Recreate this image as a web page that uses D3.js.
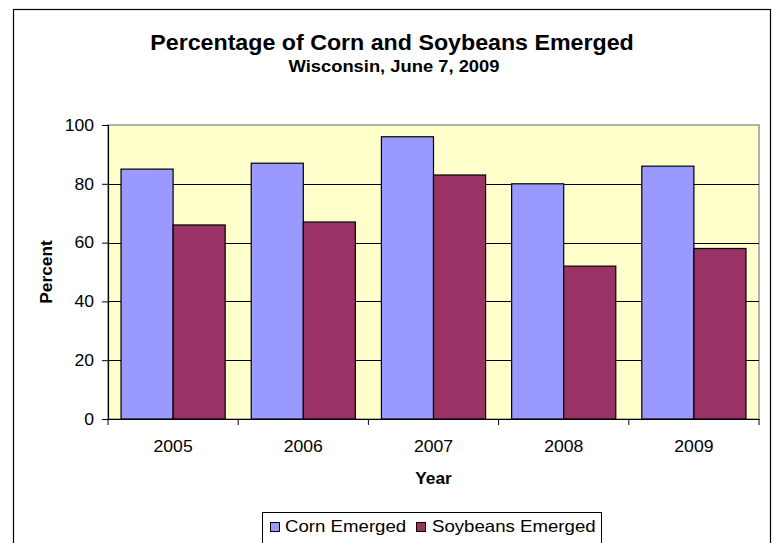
<!DOCTYPE html>
<html>
<head>
<meta charset="utf-8">
<script src="https://cdn.jsdelivr.net/npm/d3@7"></script>
<style>
  html, body { margin: 0; padding: 0; background: #fff; }
  svg { display: block; }
  text { font-family: "Liberation Sans", Arial, sans-serif; fill: #000; }
</style>
</head>
<body>
<svg id="chart" width="775" height="543"></svg>
<script>
const years = ["2005", "2006", "2007", "2008", "2009"];
const seriesNames = ["Corn Emerged", "Soybeans Emerged"];
const cornValues = [85, 87, 96, 80, 86];
const soyValues = [66, 67, 83, 52, 58];
const yTicks = [0, 20, 40, 60, 80, 100];
const seriesColors = ["#9999FF", "#993366"];
const titleText = "Percentage of Corn and Soybeans Emerged";
const subtitleText = "Wisconsin, June 7, 2009";

const data = years.map((y, i) => ({ year: y, values: [cornValues[i], soyValues[i]] }));

const svg = d3.select("#chart");
const SX = 1.08; // horizontal stretch of text seen in the reference

function stretchedText(g, x, y, txt, opts) {
  const sx = opts.sx || SX;
  const t = g.append("text")
    .attr("transform", `translate(${x},${y}) scale(${sx},1)`)
    .text(txt);
  if (opts.size) t.attr("font-size", opts.size);
  if (opts.weight) t.attr("font-weight", opts.weight);
  if (opts.anchor) t.attr("text-anchor", opts.anchor);
  return t;
}

// outer chart frame
svg.append("rect")
  .attr("x", 13.5).attr("y", 9.5)
  .attr("width", 757).attr("height", 560)
  .attr("fill", "#fff").attr("stroke", "#000").attr("stroke-width", 1.2);

const plot = { left: 108, right: 759, top: 125, bottom: 419 };

const x0 = d3.scaleBand().domain(years).range([plot.left, plot.right]).paddingInner(0).paddingOuter(0);
const x1 = d3.scaleBand().domain(seriesNames).range([0, x0.bandwidth()]).paddingInner(0).paddingOuter(0.25);
const y = d3.scaleLinear().domain([0, 100]).range([plot.bottom, plot.top]);

// plot background
svg.append("rect")
  .attr("x", plot.left).attr("y", plot.top)
  .attr("width", plot.right - plot.left).attr("height", plot.bottom - plot.top)
  .attr("fill", "#FFFFCC").attr("stroke", "#999").attr("stroke-width", 1.5);

// gridlines
svg.append("g").selectAll("line")
  .data(yTicks.filter(d => d > 0 && d < 100))
  .join("line")
  .attr("x1", plot.left).attr("x2", plot.right)
  .attr("y1", d => Math.round(y(d)) + 0.5).attr("y2", d => Math.round(y(d)) + 0.5)
  .attr("stroke", "#000").attr("stroke-width", 1);

// bars
const groups = svg.append("g").selectAll("g")
  .data(data)
  .join("g")
  .attr("transform", d => `translate(${x0(d.year)},0)`);

groups.selectAll("rect")
  .data(d => d.values.map((v, i) => ({ name: seriesNames[i], value: v, i })))
  .join("rect")
  .attr("x", d => x1(d.name))
  .attr("y", d => y(d.value))
  .attr("width", x1.bandwidth())
  .attr("height", d => y(0) - y(d.value))
  .attr("fill", d => seriesColors[d.i])
  .attr("stroke", "#000").attr("stroke-width", 1.2);

// y axis
const yAxis = d3.axisLeft(y).tickValues(yTicks).tickSize(6).tickPadding(8).tickFormat(d3.format("d"));
const yg = svg.append("g").attr("transform", `translate(${plot.left},0)`).call(yAxis);
yg.select(".domain").attr("stroke", "#000").attr("stroke-width", 1.2);
yg.selectAll(".tick line").attr("stroke", "#000");
yg.selectAll(".tick text").remove();
yTicks.forEach(v => {
  stretchedText(svg, 94, y(v) + 5.8, String(v), { size: 16.3, anchor: "end" });
});

// x axis
const xAxis = d3.axisBottom(x0).tickSize(0).tickFormat("");
const xg = svg.append("g").attr("transform", `translate(0,${plot.bottom})`).call(xAxis);
xg.select(".domain").attr("stroke", "#000").attr("stroke-width", 1.2);
// category separator ticks
const sepX = years.map(yv => x0(yv)).concat([plot.right]);
svg.append("g").selectAll("line")
  .data(sepX)
  .join("line")
  .attr("x1", d => d).attr("x2", d => d)
  .attr("y1", plot.bottom).attr("y2", plot.bottom + 6)
  .attr("stroke", "#000").attr("stroke-width", 1);
years.forEach(yv => {
  stretchedText(svg, x0(yv) + x0.bandwidth() / 2, 451.5, yv, { size: 16.3, anchor: "middle" });
});

// axis titles
stretchedText(svg, (plot.left + plot.right) / 2, 483.5, "Year", { size: 16, weight: "bold", anchor: "middle" });
svg.append("text")
  .attr("transform", `translate(51.5,${(plot.top + plot.bottom) / 2}) rotate(-90) scale(${SX},1)`)
  .attr("text-anchor", "middle")
  .attr("font-size", 16).attr("font-weight", "bold")
  .text("Percent");

// titles
stretchedText(svg, 392, 49.5, titleText, { size: 21.5, weight: "bold", anchor: "middle" });
stretchedText(svg, 394, 71.7, subtitleText, { size: 17, weight: "bold", anchor: "middle" });

// legend
const legend = svg.append("g");
legend.append("rect")
  .attr("x", 262.5).attr("y", 512.5).attr("width", 339).attr("height", 60)
  .attr("fill", "#fff").attr("stroke", "#000").attr("stroke-width", 1);
const legendItems = [
  { name: seriesNames[0], color: seriesColors[0], sx: 270, tx: 285 },
  { name: seriesNames[1], color: seriesColors[1], sx: 416, tx: 432 }
];
legendItems.forEach(it => {
  legend.append("rect")
    .attr("x", it.sx + 0.5).attr("y", 522.5).attr("width", 9).attr("height", 9)
    .attr("fill", it.color).attr("stroke", "#000").attr("stroke-width", 1);
  stretchedText(legend, it.tx, 531.7, it.name, { size: 16.5, sx: 1.13 });
});
</script>
</body>
</html>
